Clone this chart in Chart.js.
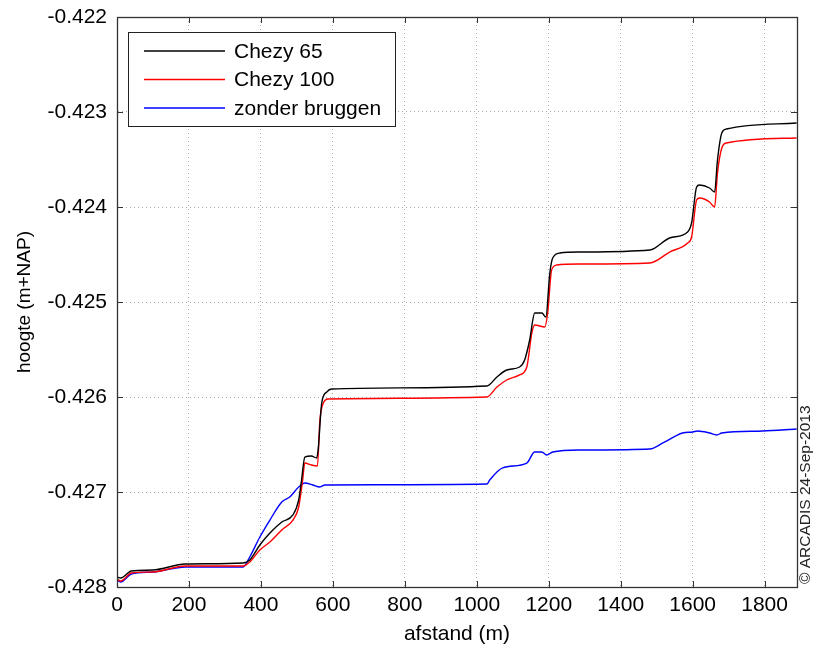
<!DOCTYPE html>
<html>
<head>
<meta charset="utf-8">
<script src="https://cdn.jsdelivr.net/npm/chart.js@4.4.1/dist/chart.umd.min.js"></script>
<style>
  html, body { margin: 0; padding: 0; background: #fff; }
</style>
</head>
<body>
<canvas id="graph" width="814" height="651"></canvas>
<script>
// afstand (m) and waterstand (m+NAP)
var chezy65X = [0, 10, 40, 100, 190, 350, 369, 397, 425, 458, 489, 505, 513, 522, 540, 555, 559, 569, 583, 597,
  1028, 1056, 1083, 1119, 1133, 1147, 1161, 1181, 1192, 1203, 1211, 1231, 1286, 1481, 1536, 1586, 1597, 1611,
  1619, 1647, 1661, 1669, 1681, 1694, 1889];
var chezy65Y = [-0.427895, -0.427905, -0.427832, -0.427821, -0.427758, -0.427747, -0.427716, -0.427558, -0.427432,
  -0.427316, -0.427242, -0.427084, -0.426874, -0.426632, -0.426621, -0.426642, -0.426558, -0.426063, -0.425947,
  -0.425916, -0.425884, -0.425789, -0.425716, -0.425684, -0.425611, -0.425400, -0.425116, -0.425116, -0.425158,
  -0.424695, -0.424537, -0.424484, -0.424474, -0.424453, -0.424326, -0.424263, -0.424168, -0.423789, -0.423768,
  -0.423800, -0.423842, -0.423505, -0.423221, -0.423179, -0.423116];

var chezy100X = [0, 10, 40, 100, 190, 350, 369, 397, 425, 458, 489, 505, 516, 522, 540, 557, 564, 575, 586,
  1028, 1056, 1083, 1119, 1139, 1153, 1161, 1189, 1197, 1208, 1222, 1286, 1481, 1536, 1586, 1597, 1611,
  1619, 1647, 1661, 1669, 1681, 1694, 1889];
var chezy100Y = [-0.427916, -0.427937, -0.427853, -0.427842, -0.427779, -0.427779, -0.427737, -0.427611, -0.427526,
  -0.427400, -0.427295, -0.427158, -0.426874, -0.426695, -0.426716, -0.426726, -0.426242, -0.426053, -0.426021,
  -0.426000, -0.425895, -0.425821, -0.425768, -0.425684, -0.425326, -0.425242, -0.425263, -0.425116, -0.424663,
  -0.424611, -0.424600, -0.424589, -0.424474, -0.424379, -0.424316, -0.423926, -0.423905, -0.423947, -0.424000,
  -0.423642, -0.423379, -0.423326, -0.423274];

var zonderX = [0, 10, 40, 100, 190, 350, 369, 397, 425, 458, 480, 505, 522, 544, 564, 578, 1028, 1036, 1072,
  1139, 1161, 1181, 1194, 1211, 1286, 1481, 1517, 1572, 1600, 1614, 1647, 1667, 1681, 1794, 1889];
var zonderY = [-0.427926, -0.427947, -0.427863, -0.427842, -0.427789, -0.427789, -0.427684, -0.427474, -0.427295,
  -0.427105, -0.427053, -0.426947, -0.426905, -0.426926, -0.426947, -0.426926, -0.426916, -0.426874, -0.426747,
  -0.426695, -0.426579, -0.426579, -0.426611, -0.426579, -0.426558, -0.426547, -0.426484, -0.426379, -0.426368,
  -0.426358, -0.426379, -0.426400, -0.426379, -0.426358, -0.426337];

var xTicks = [0, 200, 400, 600, 800, 1000, 1200, 1400, 1600, 1800];
var yTicks = [-0.428, -0.427, -0.426, -0.425, -0.424, -0.423, -0.422];

var FONT = '"Liberation Sans", Arial, sans-serif';

function pts(xs, ys) {
  return xs.map(function(x, i) { return { x: x, y: ys[i] }; });
}

// legend box, inward ticks, top/right frame and copyright text
var matlabLook = {
  id: 'matlabLook',
  afterDatasetsDraw: function(chart) {
    var c = chart.ctx, a = chart.chartArea;
    var xs = chart.scales.x, ys = chart.scales.y;
    c.save();
    c.setLineDash([]);
    c.strokeStyle = '#333';
    c.lineWidth = 1;
    c.beginPath();
    xTicks.forEach(function(t) {
      var px = Math.round(xs.getPixelForValue(t)) + 0.5;
      c.moveTo(px, a.bottom); c.lineTo(px, a.bottom - 6);
      c.moveTo(px, a.top); c.lineTo(px, a.top + 6);
    });
    yTicks.forEach(function(t) {
      var py = Math.round(ys.getPixelForValue(t)) + 0.5;
      c.moveTo(a.left, py); c.lineTo(a.left + 6, py);
      c.moveTo(a.right, py); c.lineTo(a.right - 6, py);
    });
    c.stroke();
    c.lineWidth = 1.3;
    c.strokeRect(Math.round(a.left) + 0.5, Math.round(a.top) + 0.5,
      Math.round(a.right - a.left), Math.round(a.bottom - a.top));

    // legend
    var lx = 128.5, ly = 32.5, lw = 267, lh = 94;
    c.lineWidth = 1;
    c.fillStyle = '#fff';
    c.fillRect(lx, ly, lw, lh);
    c.strokeStyle = '#222';
    c.strokeRect(lx, ly, lw, lh);
    c.font = '21px ' + FONT;
    c.textBaseline = 'middle';
    chart.data.datasets.forEach(function(ds, i) {
      var y = 51 + i * 28.5;
      c.strokeStyle = ds.borderColor;
      c.lineWidth = 1.4;
      c.beginPath(); c.moveTo(144, y); c.lineTo(225, y); c.stroke();
      c.fillStyle = '#000';
      c.fillText(ds.label, 234, y + 1);
    });

    // copyright
    c.translate(806, 584);
    c.rotate(-Math.PI / 2);
    c.font = '15.5px ' + FONT;
    c.fillStyle = '#222';
    c.textBaseline = 'middle';
    c.fillText('\u00a9 ARCADIS 24-Sep-2013', 0, 0);
    c.restore();
  }
};

var ctx = document.getElementById('graph').getContext('2d');
var chart = new Chart(ctx, {
  type: 'line',
  data: {
    datasets: [
      { label: 'Chezy 65', data: pts(chezy65X, chezy65Y), borderColor: '#000000' },
      { label: 'Chezy 100', data: pts(chezy100X, chezy100Y), borderColor: '#ff0000' },
      { label: 'zonder bruggen', data: pts(zonderX, zonderY), borderColor: '#0000ff' }
    ]
  },
  options: {
    responsive: false,
    animation: false,
    layout: { padding: { top: 17, right: 17, left: 9, bottom: 0 } },
    elements: {
      point: { radius: 0 },
      line: { borderWidth: 1.4, cubicInterpolationMode: 'monotone', fill: false }
    },
    plugins: {
      legend: { display: false },
      tooltip: { enabled: false }
    },
    scales: {
      x: {
        type: 'linear',
        min: 0,
        max: 1890,
        afterBuildTicks: function(s) { s.ticks = xTicks.map(function(v) { return { value: v }; }); },
        afterFit: function(s) { s.height = 64; s.paddingLeft = 0; s.paddingRight = 0; },
        ticks: { color: '#000', font: { family: FONT, size: 21 }, padding: 6, maxRotation: 0,
          callback: function(v) { return v; } },
        grid: { color: '#aaa', drawTicks: false },
        border: { color: '#333', width: 1, dash: [1, 3] },
        title: { display: true, text: 'afstand (m)', color: '#000', font: { family: FONT, size: 21 }, padding: { top: 0 } }
      },
      y: {
        type: 'linear',
        min: -0.428,
        max: -0.422,
        afterBuildTicks: function(s) { s.ticks = yTicks.map(function(v) { return { value: v }; }); },
        afterFit: function(s) { s.width = 108; s.paddingTop = 0; s.paddingBottom = 0; },
        ticks: { color: '#000', font: { family: FONT, size: 21 }, padding: 10,
          callback: function(v) { return v.toFixed(3); } },
        grid: { color: '#aaa', drawTicks: false },
        border: { color: '#333', width: 1, dash: [1, 3] },
        title: { display: true, text: 'hoogte (m+NAP)', color: '#000', font: { family: FONT, size: 19 }, padding: { bottom: 0 } }
      }
    }
  },
  plugins: [matlabLook]
});
</script>
</body>
</html>
